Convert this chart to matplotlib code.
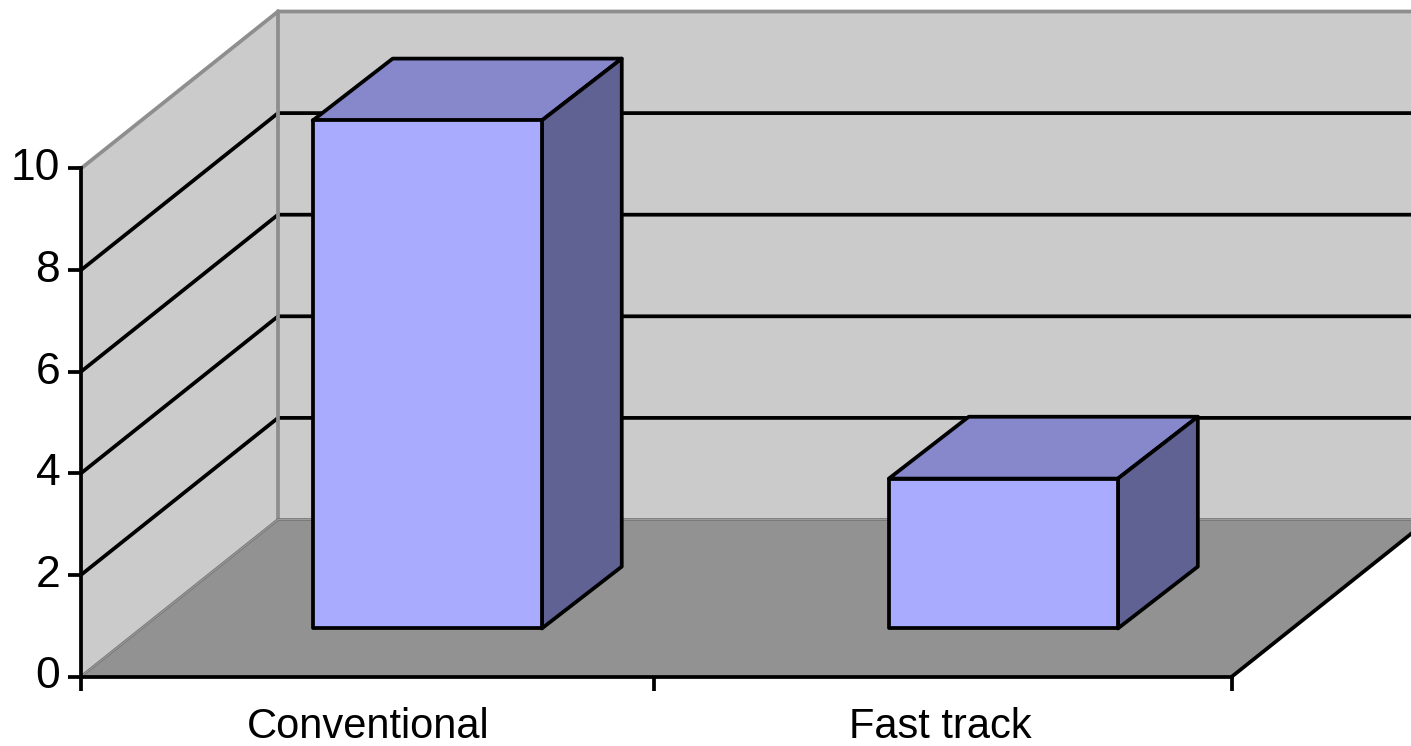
import matplotlib
matplotlib.use("Agg")
import matplotlib.pyplot as plt
from matplotlib.patches import Polygon
from matplotlib.transforms import ScaledTranslation

categories = ["Conventional", "Fast track"]
values = [10.0, 2.95]
y_ticks = [0, 2, 4, 6, 8, 10]
x_edges = [0, 0.996, 2]
grid_levels = [2, 4, 6, 8]

bar_centers = [0.497, 1.498]
label_centers = [0.499, 1.493]
BAR_WIDTH = 0.398

# Oblique depth vector of the pseudo-3D box, in data units
DEPTH_X = 197 / 575.5
DEPTH_Y = 157 / 50.8
BAR_D0, BAR_D1 = 0.306, 0.70
BAR_SKEW = 0.004  # back edge of a box reaches slightly further right

LINE_W = 2.7

WALL = "#cbcbcb"
FLOOR = "#929292"
WALL_EDGE = "#8e8e8e"
FRONT = "#a9abff"
TOP = "#8688cb"
SIDE = "#616294"

W, H = 1411, 746
plt.rcParams["font.family"] = ["Liberation Sans", "DejaVu Sans"]
fig = plt.figure(figsize=(W / 100, H / 100), dpi=100, facecolor="white")
ax = fig.add_axes([81 / W, (H - 676.5) / H, 1151 / W, 508 / H])
ax.set_xlim(0, 2)
ax.set_ylim(0, 10)
ax.patch.set_visible(False)


def project(x, v, d=0.0, skew=0.0):
    """Shift a data point backwards along the depth axis."""
    return (x + d * DEPTH_X + skew, v + d * DEPTH_Y)


def face(points, color, z, edge=None, lw=0):
    ax.add_patch(Polygon(points, closed=True, facecolor=color,
                         edgecolor=edge if edge else "none", linewidth=lw,
                         joinstyle="round", clip_on=False, zorder=z))


def line(points, color, lw, z):
    xs, ys = zip(*points)
    ax.plot(xs, ys, color=color, lw=lw, clip_on=False, zorder=z,
            solid_capstyle="round", solid_joinstyle="miter")


# Walls and floor
x_max = x_edges[-1]
v_max = y_ticks[-1]
face([project(0, 0), project(0, v_max), project(0, v_max, 1), project(0, 0, 1)], WALL, 1)
face([project(0, 0, 1), project(0, v_max, 1), project(x_max, v_max, 1), project(x_max, 0, 1)], WALL, 1)
face([project(0, 0), project(0, 0, 1), project(x_max, 0, 1), project(x_max, 0)], FLOOR, 1)

# Gridlines run across the side wall and the back wall
for level in grid_levels:
    line([project(0, level), project(0, level, 1), project(x_max, level, 1)], "black", LINE_W, 2)

# Grey outline of the walls
line([project(0, v_max), project(0, v_max, 1), project(x_max, v_max, 1)], WALL_EDGE, LINE_W, 3)
line([project(0, 0, 1), project(0, v_max, 1)], WALL_EDGE, LINE_W, 3)
line([project(0, 0), project(0, 0, 1), project(x_max, 0, 1)], "#787878", 2.0, 3)
line([project(0, 0), project(0, 0, 1), project(x_max, 0, 1)], "#a2a2a2", 0.6, 3.1)

# Front edge of the floor on the right
line([project(x_max, 0), project(x_max, 0, 1)], "black", LINE_W, 4)

# Boxes
for center, value in zip(bar_centers, values):
    left = center - BAR_WIDTH / 2
    right = center + BAR_WIDTH / 2
    style = dict(edge="black", lw=LINE_W)
    face([project(left, value, BAR_D0), project(right, value, BAR_D0),
          project(right, value, BAR_D1, BAR_SKEW), project(left, value, BAR_D1, BAR_SKEW)],
         TOP, 5, **style)
    face([project(right, 0, BAR_D0), project(right, value, BAR_D0),
          project(right, value, BAR_D1, BAR_SKEW), project(right, 0, BAR_D1, BAR_SKEW)],
         SIDE, 5, **style)
    face([project(left, 0, BAR_D0), project(right, 0, BAR_D0),
          project(right, value, BAR_D0), project(left, value, BAR_D0)], FRONT, 6, **style)

# Axes
for name in ("top", "right"):
    ax.spines[name].set_visible(False)
for name in ("left", "bottom"):
    ax.spines[name].set_linewidth(LINE_W)
    ax.spines[name].set_zorder(7)
ax.set_yticks(y_ticks)
ax.set_yticklabels([str(t) for t in y_ticks], fontsize=32)
ax.tick_params(axis="y", length=9.5, width=LINE_W, pad=5.5)
ax.set_xticks(x_edges)
ax.set_xticklabels([])
ax.tick_params(axis="x", which="major", length=10, width=LINE_W)
ax.set_xticks(label_centers, minor=True)
ax.set_xticklabels(categories, minor=True, fontsize=30)
ax.tick_params(axis="x", which="minor", length=0, pad=22)

# Value labels sit a little above their tick marks
lift = ScaledTranslation(0, 4 / 100, fig.dpi_scale_trans)
for label in ax.get_yticklabels():
    label.set_transform(label.get_transform() + lift)

fig.savefig("out.png", dpi=100, facecolor="white")
